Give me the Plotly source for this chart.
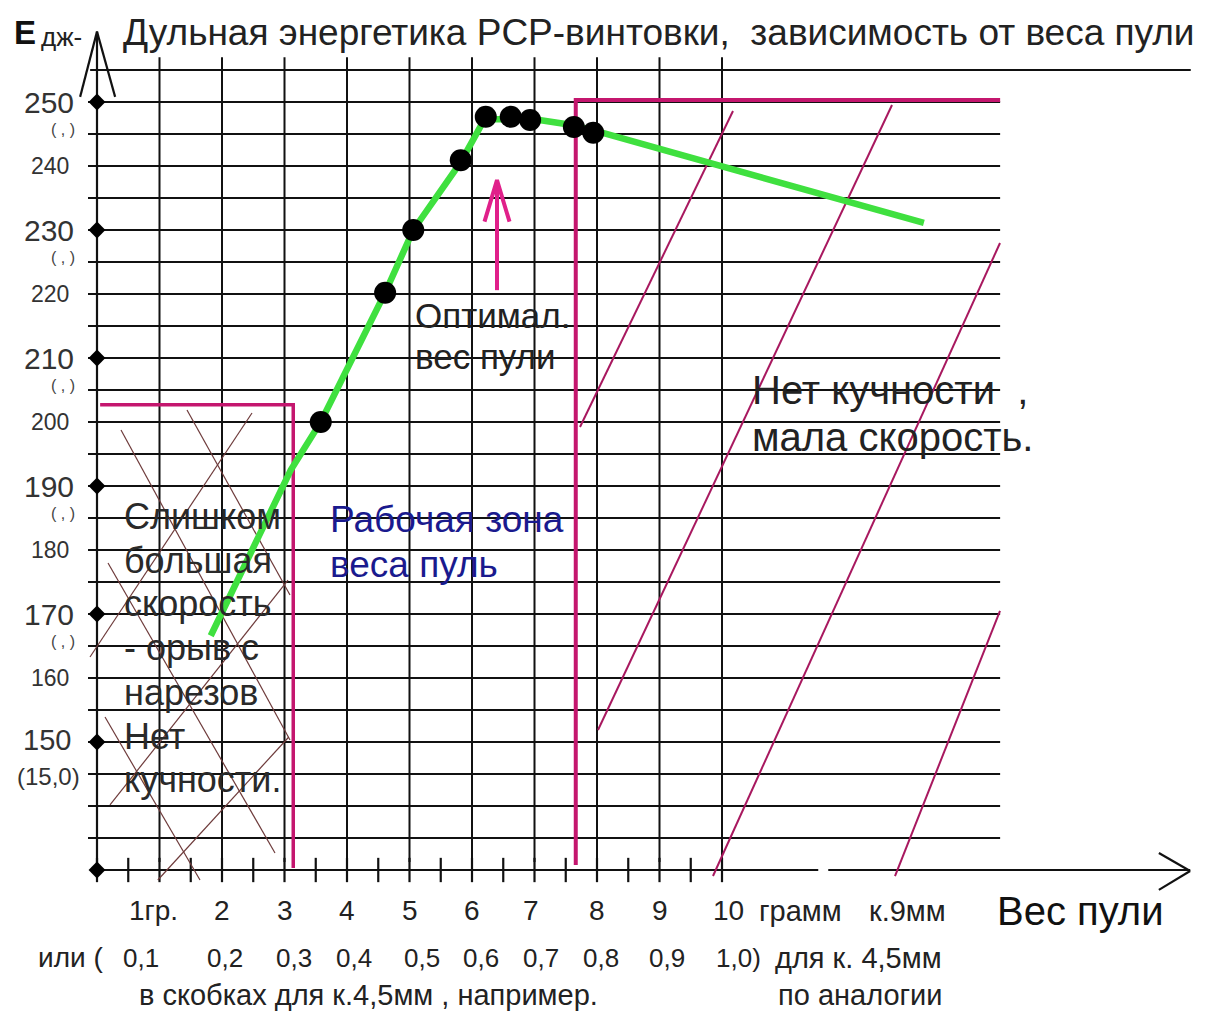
import plotly.graph_objects as go

# measured shots: bullet weight (g) and muzzle energy (J)
shot_weight = [3.58, 4.61, 5.06, 5.82, 6.22, 6.62, 6.93, 7.63, 7.94]
shot_energy = [200.0, 220.2, 230.0, 240.9, 247.7, 247.7, 247.2, 246.1, 245.2]

# hand-drawn green trend
trend_weight = [1.82, 3.1, 3.58, 4.61, 5.06, 5.82, 6.2, 7.0, 7.6, 8.05, 13.23]
trend_energy = [166.6, 192.5, 200.0, 220.2, 230.0, 240.6, 247.3, 247.3, 246.4, 245.3, 231.1]

# y axis labels
big_ticks = [250, 230, 210, 190, 170, 150]
small_ticks = [240, 220, 200, 180, 160]
axis_dots = [250, 230, 210, 190, 170, 150, 130]

# x axis labels
gram_ticks = [0.9, 2, 3, 4, 5, 6, 6.95, 8, 9, 10.1]
gram_labels = ["1гр.", "2", "3", "4", "5", "6", "7", "8", "9", "10"]
cal45_ticks = [0.7, 2.05, 3.15, 4.11, 5.2, 6.14, 7.1, 8.06, 9.12]
cal45_labels = ["0,1", "0,2", "0,3", "0,4", "0,5", "0,6", "0,7", "0,8", "0,9"]

# zones
low_zone_edge = 3.14
low_zone_top = 202.7
high_zone_edge = 7.66
high_zone_top = 250.3
zone_right = 14.45

# hatching segments (weight, energy) pairs
left_hatch = [
    [(0.384, 198.75), (3.088, 150.31)],
    [(1.44, 201.88), (3.088, 172.97)],
    [(2.48, 201.41), (-0.112, 163.28)],
    [(0.176, 177.97), (2.848, 132.66)],
    [(3.056, 175.31), (0.208, 140.16)],
    [(0.128, 153.9), (1.648, 128.44)],
    [(3.069, 150.78), (0.973, 128.44)],
]
right_hatch = [
    [(7.728, 199.22), (10.176, 248.59)],
    [(8.016, 151.88), (12.72, 249.53)],
    [(9.856, 129.06), (14.448, 227.97)],
    [(12.768, 129.06), (14.448, 170.47)],
]

# optimum arrow
optimum_weight = 6.4
optimum_arrow = [220.6, 237.8]

FONT = "Liberation Sans, Arial, sans-serif"
MAGENTA = "#c4166e"


def segs(pairs):
    xs, ys = [], []
    for (x0, y0), (x1, y1) in pairs:
        xs += [x0, x1, None]
        ys += [y0, y1, None]
    return xs, ys


fig = go.Figure()

# grid
grid = [[(-0.144, e), (14.45, e)] for e in range(135, 255, 5)]
grid.append([(-0.11, 255), (17.5, 255)])
grid += [[(g, 131.25), (g, 257.0)] for g in range(1, 11)]
gx, gy = segs(grid)
fig.add_trace(go.Scatter(x=gx, y=gy, mode="lines", line=dict(color="#111", width=2), hoverinfo="skip"))

# axes with arrows and ticks
axes = [
    [(0, 130), (11.54, 130)],
    [(11.7, 130), (17.49, 130)],
    [(16.99, 132.66), (17.49, 129.84)],
    [(17.49, 129.84), (16.99, 126.9)],
    [(0, 130), (0, 261.0)],
    [(-0.27, 250.8), (0, 261.0)],
    [(0, 261.0), (0.29, 250.8)],
]
axes += [[(k / 2, 128.1), (k / 2, 131.9)] for k in range(0, 21)]
ax_x, ax_y = segs(axes)
fig.add_trace(go.Scatter(x=ax_x, y=ax_y, mode="lines", line=dict(color="#111", width=2.2), hoverinfo="skip"))

# hatching
hx, hy = segs(left_hatch)
fig.add_trace(go.Scatter(x=hx, y=hy, mode="lines", line=dict(color="#6e3b3b", width=1.2), hoverinfo="skip"))
hx, hy = segs(right_hatch)
fig.add_trace(go.Scatter(x=hx, y=hy, mode="lines", line=dict(color="#a8185f", width=2), hoverinfo="skip"))

# zone borders
fig.add_trace(go.Scatter(
    x=[0.05, low_zone_edge, low_zone_edge], y=[low_zone_top, low_zone_top, 130.3],
    mode="lines", line=dict(color=MAGENTA, width=3.5), hoverinfo="skip"))
fig.add_trace(go.Scatter(
    x=[high_zone_edge, high_zone_edge, zone_right], y=[130.8, high_zone_top, high_zone_top],
    mode="lines", line=dict(color=MAGENTA, width=4), hoverinfo="skip"))

# optimum arrow
fig.add_trace(go.Scatter(
    x=[optimum_weight, optimum_weight, None, optimum_weight - 0.2, optimum_weight, optimum_weight + 0.2],
    y=[optimum_arrow[0], optimum_arrow[1], None, optimum_arrow[1] - 6.5, optimum_arrow[1], optimum_arrow[1] - 6.5],
    mode="lines", line=dict(color="#e0208a", width=4), hoverinfo="skip"))

# trend and shots
fig.add_trace(go.Scatter(x=trend_weight, y=trend_energy, mode="lines",
                         line=dict(color="#3fe03f", width=6.5), hoverinfo="skip"))
fig.add_trace(go.Scatter(x=shot_weight, y=shot_energy, mode="markers",
                         marker=dict(color="black", size=22)))
fig.add_trace(go.Scatter(x=[0] * len(axis_dots), y=axis_dots, mode="markers",
                         marker=dict(color="black", size=13, symbol="diamond")))

ann = []


def text(x, y, s, size, color="#222", xanchor="center", **kw):
    ann.append(dict(x=x, y=y, xref="x", yref="y", text=s, showarrow=False,
                    xanchor=xanchor, yanchor="middle",
                    font=dict(family=FONT, size=size, color=color), **kw))


def block(x, ys, lines, size, color="#222"):
    for y, s in zip(ys, lines):
        text(x, y, s, size, color=color, xanchor="left")


text(-1.15, 260.8, "<b>E</b>", 33, color="#111")
text(-0.93, 260.1, "дж-", 26, xanchor="left")
text(0.38, 260.8, "Дульная энергетика PCP-винтовки,  зависимость от веса пули", 37, xanchor="left")

for e in big_ticks[:-1]:
    text(-0.77, e, str(e), 30, color="#333")
    text(-0.54, e, "( , )", 16, color="#444", yshift=-27)
text(-0.8, 150, "150", 29, color="#333", yshift=2)
text(-0.77, 150, "(15,0)", 24, color="#333", yshift=-34)
for e in small_ticks:
    text(-0.75, e, str(e), 23, color="#333")

for g, s in zip(gram_ticks, gram_labels):
    text(g, 123.6, s, 28)
text(11.25, 123.6, "грамм", 29)
text(12.96, 123.6, "к.9мм", 29)
text(15.73, 123.6, "Вес пули", 40, color="#111")

text(-0.43, 116.3, "или (", 28)
for g, s in zip(cal45_ticks, cal45_labels):
    text(g, 116.3, s, 26)
text(10.26, 116.3, "1,0)", 26)
text(12.18, 116.3, "для к. 4,5мм", 29)
text(4.34, 110.5, "в скобках для к.4,5мм , например.", 29)
text(12.21, 110.5, "по аналогии", 29)

block(5.06, [216.7, 210.2], ["Оптимал.", "вес пули"], 35)
block(10.45, [205.0, 197.7], ["Нет кучности  ,", "мала скорость."], 40)
block(3.70, [184.7, 177.7], ["Рабочая зона", "веса пуль"], 37, color="#1a1a8e")
block(0.40, [185.3, 178.4, 171.6, 164.7, 157.8, 150.8, 144.1],
      ["Слишком", "большая", "скорость", "- орыв с", "нарезов", "Нет", "кучности."], 36, color="#2a2a2a")

fig.update_layout(
    width=1216,
    height=1022,
    margin={"r": 0, "t": 0, "l": 0, "b": 0},
    paper_bgcolor="white",
    plot_bgcolor="white",
    showlegend=False,
    annotations=ann,
    xaxis=dict(visible=False, range=[(8 - 97) / 62.5, (1224 - 97) / 62.5], fixedrange=True),
    yaxis=dict(visible=False, range=[130 - (1030 - 870) / 6.4, 130 + (870 - 8) / 6.4], fixedrange=True),
)
fig.write_html("out.html")
